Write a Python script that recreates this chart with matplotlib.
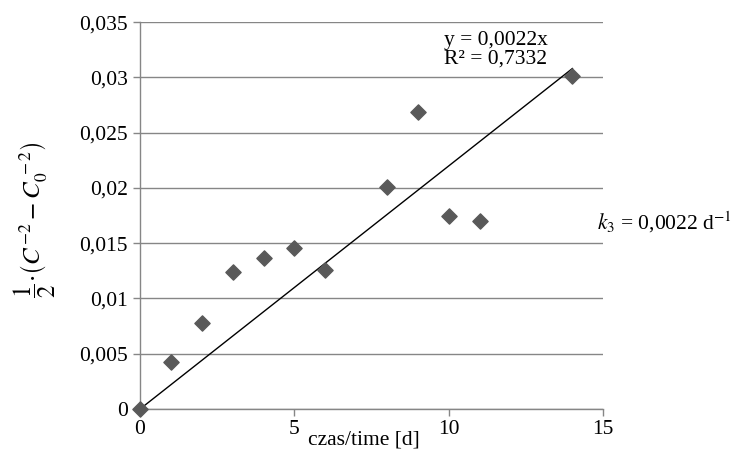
import matplotlib
matplotlib.use("Agg")
import matplotlib.pyplot as plt
from matplotlib.ticker import FuncFormatter, MultipleLocator
import numpy as np

plt.rcParams['font.family'] = ['Liberation Serif', 'DejaVu Serif']
plt.rcParams['mathtext.fontset'] = 'stix'

# dane
czas = [0, 1, 2, 3, 4, 5, 6, 8, 9, 10, 11, 14]
wartosci = [0.0, 0.0043, 0.0078, 0.0124, 0.0137, 0.0146, 0.0126,
            0.0201, 0.0269, 0.0175, 0.0170, 0.0301]
nachylenie = 0.0022
r2 = 0.7332

def przecinek(v, pos):
    return ('%g' % round(v, 4)).replace('.', ',')

fig = plt.figure(figsize=(7.33, 4.51), dpi=100)
ax = fig.add_axes([0.191, 0.093, 0.632, 0.858])

gray = '#868686'
ax.grid(axis='y', color=gray, lw=1)
ax.set_axisbelow(True)

x_fit = np.array([0, czas[-1]])
ax.plot(x_fit, nachylenie * x_fit, color='black', lw=1, zorder=2)
ax.scatter(czas, wartosci, marker='D', s=60, color='#595959', zorder=3, clip_on=False)

ax.set_xlim(0, 15)
ax.set_ylim(0, 0.035)
ax.xaxis.set_major_locator(MultipleLocator(5))
ax.yaxis.set_major_locator(MultipleLocator(0.005))
ax.yaxis.set_major_formatter(FuncFormatter(przecinek))
ax.xaxis.set_major_formatter(FuncFormatter(przecinek))

for s in ['top', 'right']:
    ax.spines[s].set_visible(False)
for s in ['left', 'bottom']:
    ax.spines[s].set_color(gray)
    ax.spines[s].set_linewidth(1)
ax.tick_params(colors=gray, labelcolor='black', labelsize=15.5, length=5, width=1)
ax.tick_params(axis='x', pad=3)
ax.tick_params(axis='y', pad=4)

ax.set_ylabel(r'$\dfrac{1}{2}\!\cdot\!\left(C^{-2}-C_0^{\,-2}\right)$', fontsize=18)
ax.yaxis.set_label_coords(-0.176, 0.49)
fig.text(0.497, 0.025, 'czas/time [d]', fontsize=15.5, ha='center', va='center')

ax.text(9.85, 0.0325, 'y = 0,0022x\nR² = 0,7332', fontsize=15.5, ha='left', va='center',
        linespacing=0.95)
fig.text(0.815, 0.508, r'$k_3$ = 0,0022 d$^{-1}$', fontsize=15.5, ha='left', va='center')

fig.savefig('out.png', dpi=100)
